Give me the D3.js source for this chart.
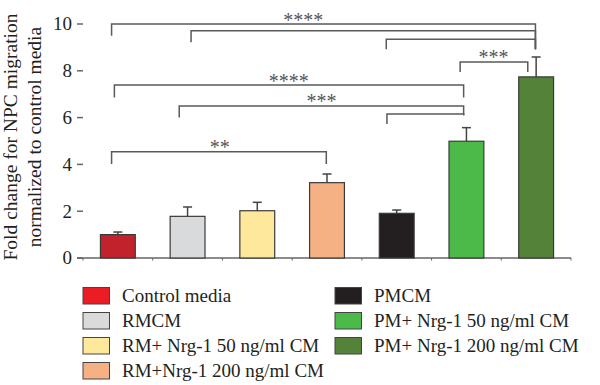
<!DOCTYPE html>
<html><head><meta charset="utf-8">
<script src="https://cdn.jsdelivr.net/npm/d3@7"></script>
<style>body{margin:0;background:#fff}svg{display:block}</style>
</head><body>
<svg id="c" width="600" height="385"></svg>
<script>
const categories = ["Control media","RMCM","RM+ Nrg-1 50 ng/ml CM","RM+Nrg-1 200 ng/ml CM","PMCM","PM+ Nrg-1 50 ng/ml CM","PM+ Nrg-1 200 ng/ml CM"];
const values = [1.0, 1.78, 2.02, 3.22, 1.91, 4.99, 7.74];
const errors = [0.11, 0.40, 0.36, 0.37, 0.14, 0.58, 0.85];
const barColors = ["#c1222b","#d9dadb","#fde89b","#f5b183","#231f20","#4cba48","#548238"];
const legendColors = ["#ec1c24","#d9dadb","#fde89b","#f5b183","#231f20","#4cba48","#548238"];
const yTicks = [0,2,4,6,8,10];
// significance brackets: category index (fractional) for ends, y level, leg ends (values)
const brFrom   = [-0.09, 1.05, 3.85, 4.91, -0.05, 0.88, 3.86, -0.09];
const brTo     = [5.99, 5.99, 5.99, 5.88, 4.96, 4.96, 4.96, 2.99];
const brY      = [10.0, 9.71, 9.35, 8.38, 7.39, 6.5, 6.15, 4.54];
const brLeftEnd  = [9.5, 9.22, 8.92, 7.95, 6.86, 6.0, 5.73, 4.02];
const brRightEnd = [8.92, 8.92, 8.92, 7.95, 6.86, 6.1, 6.1, 4.02];
const brLabel  = ["****","","","***","****","***","","**"];
const brLabelPos = [2.66, 0, 0, 5.39, 2.45, 2.92, 0, 1.46];

const svg = d3.select("#c");
const serif = "'Liberation Serif','Times New Roman',serif";
const x = d3.scaleBand().domain(d3.range(categories.length)).range([83, 571]).paddingInner(0.5).paddingOuter(0.25);
const y = d3.scaleLinear().domain([0,10]).range([258, 24]);
const cx = i => x(0) + x.bandwidth()/2 + i * x.step();
const axisCol = "#666";

// y ticks
const g = svg.append("g");
yTicks.forEach(t => {
  g.append("line").attr("x1",77).attr("x2",83).attr("y1",y(t)).attr("y2",y(t)).attr("stroke",axisCol).attr("stroke-width",1.5);
  g.append("text").attr("x",72).attr("y",y(t)).attr("dy","0.34em").attr("text-anchor","end")
    .attr("font-family",serif).attr("font-size",19).attr("fill","#231f20").text(t);
});
// x axis
g.append("line").attr("x1",77).attr("x2",571).attr("y1",y(0)).attr("y2",y(0)).attr("stroke",axisCol).attr("stroke-width",1.5);
d3.range(categories.length+1).forEach(i => {
  const xx = 83 + i * x.step();
  g.append("line").attr("x1",xx).attr("x2",xx).attr("y1",y(0)).attr("y2",y(0)+2.5).attr("stroke",axisCol).attr("stroke-width",1);
});

// bars
categories.forEach((c,i) => {
  const bx = x(i), bw = x.bandwidth(), mid = bx + bw/2;
  svg.append("line").attr("x1",mid).attr("x2",mid).attr("y1",y(values[i])).attr("y2",y(values[i]+errors[i])).attr("stroke","#444").attr("stroke-width",1.5);
  svg.append("line").attr("x1",mid-4.5).attr("x2",mid+4.5).attr("y1",y(values[i]+errors[i])).attr("y2",y(values[i]+errors[i])).attr("stroke","#444").attr("stroke-width",1.5);
  svg.append("rect").attr("x",bx).attr("y",y(values[i])).attr("width",bw).attr("height",y(0)-y(values[i]))
    .attr("fill",barColors[i]).attr("stroke","#3a3a3a").attr("stroke-width",1.2);
});

// brackets
brFrom.forEach((f,k) => {
  const x1 = cx(f), x2 = cx(brTo[k]), yy = y(brY[k]);
  svg.append("path").attr("d",`M${x1},${y(brLeftEnd[k])}V${yy}H${x2}V${y(brRightEnd[k])}`)
    .attr("fill","none").attr("stroke","#5a5a5a").attr("stroke-width",1.5);
  if (brLabel[k]) {
    svg.append("text").attr("x",cx(brLabelPos[k])).attr("y",yy+2.5).attr("text-anchor","middle")
      .attr("font-family",serif).attr("font-size",20).attr("letter-spacing",0).attr("fill","#555").text(brLabel[k]);
  }
});

// y title
const yt = svg.append("text").attr("transform","translate(17,137) rotate(-90)").attr("text-anchor","middle")
  .attr("font-family",serif).attr("font-size",19.5).attr("fill","#231f20");
yt.append("tspan").attr("x",0).attr("y",0).text("Fold change for NPC migration");
yt.append("tspan").attr("x",0).attr("y",24).text("normalized to control media");

// legend
categories.forEach((c,i) => {
  const col = i < 4 ? 0 : 1, row = i < 4 ? i : i - 4;
  const lx = col === 0 ? 83 : 335, ly = 287.5 + row * 25;
  svg.append("rect").attr("x",lx).attr("y",ly).attr("width",26.5).attr("height",16.5)
    .attr("fill",legendColors[i]).attr("stroke","#444").attr("stroke-width",1);
  svg.append("text").attr("x",lx+39).attr("y",ly+14.5).attr("font-family",serif).attr("font-size",19)
    .attr("fill","#231f20").text(c);
});
</script>
</body></html>
